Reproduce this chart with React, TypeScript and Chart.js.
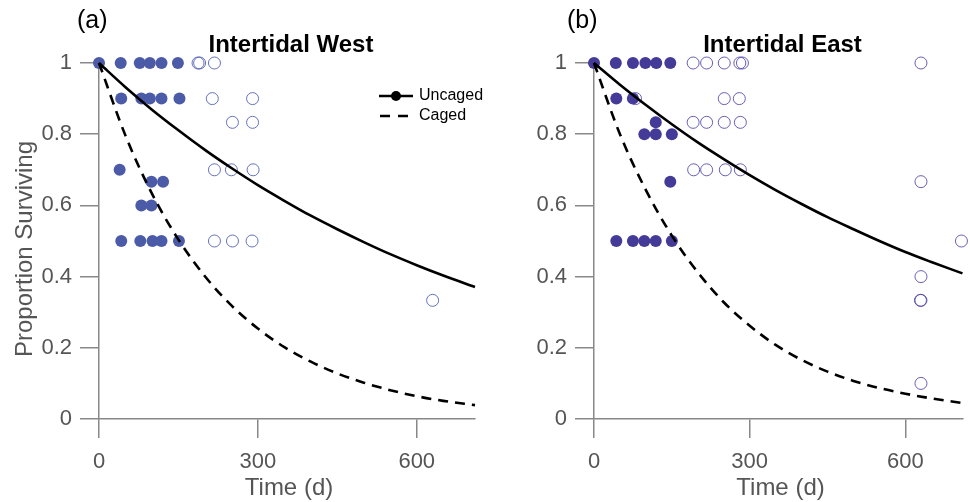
import React, { useEffect, useRef } from 'react';
import { Chart, registerables } from 'chart.js';

Chart.register(...registerables);

const FONT = '"Liberation Sans", Arial, Helvetica, sans-serif';

// Axis ticks
const xTickValues = [0, 300, 600];
const yTickValues = [0, 0.2, 0.4, 0.6, 0.8, 1];
const yTickLabels = ['0', '0.2', '0.4', '0.6', '0.8', '1'];

// Fitted survival curves
const curveDays = [0, 50, 100, 150, 200, 250, 300, 350, 400, 450, 500, 550, 600, 650, 710];
const westUncaged = [1, 0.932, 0.869, 0.811, 0.756, 0.705, 0.657, 0.613, 0.571, 0.533, 0.497, 0.463, 0.432, 0.403, 0.371];
const westCaged = [1, 0.796, 0.633, 0.504, 0.401, 0.319, 0.254, 0.202, 0.161, 0.128, 0.102, 0.081, 0.064, 0.051, 0.039];
const eastUncaged = [1, 0.939, 0.882, 0.828, 0.777, 0.73, 0.685, 0.643, 0.604, 0.567, 0.533, 0.5, 0.469, 0.441, 0.409];
const eastCaged = [1, 0.8, 0.643, 0.515, 0.412, 0.328, 0.262, 0.208, 0.166, 0.133, 0.107, 0.087, 0.071, 0.058, 0.045];

// Intertidal West observations
const westFilledDays = [0, 41, 77, 96, 118, 149, 42, 80, 96, 118, 152, 39, 99, 121, 80, 99, 42, 78, 101, 118, 151];
const westFilledProp = [1, 1, 1, 1, 1, 1, 0.9, 0.9, 0.9, 0.9, 0.9, 0.7, 0.6667, 0.6667, 0.6, 0.6, 0.5, 0.5, 0.5, 0.5, 0.5];
const westOpenDays = [187, 190, 218, 214, 290, 252, 290, 218, 250, 291, 218, 252, 289, 630];
const westOpenProp = [1, 1, 1, 0.9, 0.9, 0.8333, 0.8333, 0.7, 0.7, 0.7, 0.5, 0.5, 0.5, 0.3333];

// Intertidal East observations
const eastFilledDays = [0, 42, 75, 99, 120, 147, 43, 75, 119, 97, 119, 150, 147, 43, 75, 97, 119, 150];
const eastFilledProp = [1, 1, 1, 1, 1, 1, 0.9, 0.9, 0.8333, 0.8, 0.8, 0.8, 0.6667, 0.5, 0.5, 0.5, 0.5, 0.5];
const eastOpenDays = [191, 217, 251, 281, 286, 630, 80, 251, 280, 191, 217, 251, 282, 192, 217, 253, 282, 630, 708, 630, 630, 629, 630];
const eastOpenProp = [1, 1, 1, 1, 1, 1, 0.9, 0.9, 0.9, 0.8333, 0.8333, 0.8333, 0.8333, 0.7, 0.7, 0.7, 0.7, 0.6667, 0.5, 0.4, 0.3333, 0.3333, 0.1];

type PanelProps = {
  left: number;
  width: number;
  yAxisWidth: number;
  padRight: number;
  xMax: number;
  letter: string;
  letterX: number;
  title: string;
  showYTitle: boolean;
  showLegend: boolean;
  filledDays: number[];
  filledProp: number[];
  openDays: number[];
  openProp: number[];
  uncaged: number[];
  caged: number[];
  filledColor: string;
  openColor: string;
};

function pts(xs: number[], ys: number[]) {
  return xs.map((x, i) => ({ x, y: ys[i] }));
}

function Panel(p: PanelProps) {
  const ref = useRef<HTMLCanvasElement>(null);
  useEffect(() => {
    const canvas = ref.current;
    if (!canvas) return;
    const deco = {
      id: 'deco',
      afterDraw(chart: any) {
        const ctx = chart.ctx as CanvasRenderingContext2D;
        const a = chart.chartArea;
        const cx = (a.left + a.right) / 2;
        ctx.save();
        ctx.fillStyle = '#000';
        ctx.textBaseline = 'middle';
        ctx.textAlign = 'left';
        ctx.font = `25px ${FONT}`;
        ctx.fillText(p.letter, p.letterX, 21);
        ctx.textAlign = 'center';
        ctx.font = `bold 24px ${FONT}`;
        ctx.fillText(p.title, cx + 4, 45);
        ctx.fillStyle = '#555';
        ctx.font = `24px ${FONT}`;
        ctx.fillText('Time (d)', cx + 2, 488);
        if (p.showYTitle) {
          ctx.save();
          ctx.translate(25, 249);
          ctx.rotate(-Math.PI / 2);
          ctx.fillText('Proportion Surviving', 0, 0);
          ctx.restore();
        }
        if (p.showLegend) {
          ctx.strokeStyle = '#000';
          ctx.lineWidth = 2.6;
          ctx.beginPath();
          ctx.moveTo(379, 96);
          ctx.lineTo(413, 96);
          ctx.stroke();
          ctx.fillStyle = '#000';
          ctx.beginPath();
          ctx.arc(396, 96, 5, 0, Math.PI * 2);
          ctx.fill();
          ctx.setLineDash([10, 8]);
          ctx.beginPath();
          ctx.moveTo(380, 116);
          ctx.lineTo(413, 116);
          ctx.stroke();
          ctx.setLineDash([]);
          ctx.textAlign = 'left';
          ctx.font = `16px ${FONT}`;
          ctx.fillText('Uncaged', 419, 96);
          ctx.fillText('Caged', 419, 116);
        }
        ctx.restore();
      },
    };
    const axisColor = '#888';
    const chart = new Chart(canvas, {
      type: 'scatter',
      data: {
        datasets: [
          {
            label: 'Uncaged',
            data: pts(curveDays, p.uncaged),
            showLine: true,
            borderColor: '#000',
            borderWidth: 2.6,
            pointRadius: 0,
            cubicInterpolationMode: 'monotone',
            order: 0,
            clip: false,
          } as any,
          {
            label: 'Caged',
            data: pts(curveDays, p.caged),
            showLine: true,
            borderColor: '#000',
            borderWidth: 2.6,
            borderDash: [10, 7],
            pointRadius: 0,
            cubicInterpolationMode: 'monotone',
            order: 1,
            clip: false,
          } as any,
          {
            label: 'open',
            data: pts(p.openDays, p.openProp),
            pointRadius: 6,
            pointBackgroundColor: 'rgba(0,0,0,0)',
            pointBorderColor: p.openColor,
            pointBorderWidth: 1,
            order: 2,
            clip: false,
          } as any,
          {
            label: 'filled',
            data: pts(p.filledDays, p.filledProp),
            pointRadius: 6,
            pointBackgroundColor: p.filledColor,
            pointBorderWidth: 0,
            order: 3,
            clip: false,
          } as any,
        ],
      },
      options: {
        responsive: false,
        animation: false,
        devicePixelRatio: 1,
        events: [],
        layout: { padding: { top: 63, right: p.padRight, left: 0, bottom: 0 } },
        plugins: { legend: { display: false }, tooltip: { enabled: false } },
        scales: {
          x: {
            type: 'linear',
            min: 0,
            max: p.xMax,
            afterFit: (s: any) => {
              s.height = 83;
            },
            afterBuildTicks: (s: any) => {
              s.ticks = xTickValues.map((v) => ({ value: v }));
            },
            grid: { drawOnChartArea: false, drawTicks: true, tickLength: 19, color: axisColor, lineWidth: 1.5 },
            border: { display: true, color: axisColor, width: 1.5 },
            ticks: { padding: 11, color: '#555', font: { family: FONT, size: 22 }, maxRotation: 0, autoSkip: false },
          },
          y: {
            type: 'linear',
            min: 0,
            max: 1,
            afterFit: (s: any) => {
              s.width = p.yAxisWidth;
            },
            afterBuildTicks: (s: any) => {
              s.ticks = yTickValues.map((v) => ({ value: v }));
            },
            grid: { drawOnChartArea: false, drawTicks: true, tickLength: 19, color: axisColor, lineWidth: 1.5 },
            border: { display: true, color: axisColor, width: 1.5 },
            ticks: {
              padding: 8,
              color: '#555',
              font: { family: FONT, size: 22 },
              autoSkip: false,
              callback: (v: any) => {
                const i = yTickValues.indexOf(Number(v));
                return i >= 0 ? yTickLabels[i] : String(v);
              },
            },
          },
        },
      } as any,
      plugins: [deco],
    });
    return () => chart.destroy();
  }, []);
  return (
    <canvas
      ref={ref}
      width={p.width}
      height={502}
      style={{ position: 'absolute', left: p.left, top: 0, width: p.width, height: 502 }}
    />
  );
}

export default function App() {
  return (
    <div style={{ position: 'fixed', left: 0, top: 0, width: 970, height: 502, overflow: 'hidden', background: '#fff' }}>
      <Panel
        left={0}
        width={485}
        yAxisWidth={99}
        padRight={10}
        xMax={710}
        letter="(a)"
        letterX={77}
        title="Intertidal West"
        showYTitle={true}
        showLegend={true}
        filledDays={westFilledDays}
        filledProp={westFilledProp}
        openDays={westOpenDays}
        openProp={westOpenProp}
        uncaged={westUncaged}
        caged={westCaged}
        filledColor="#4b5ba8"
        openColor="rgba(75,91,180,0.85)"
      />
      <Panel
        left={485}
        width={485}
        yAxisWidth={109}
        padRight={0}
        xMax={711}
        letter="(b)"
        letterX={82}
        title="Intertidal East"
        showYTitle={false}
        showLegend={false}
        filledDays={eastFilledDays}
        filledProp={eastFilledProp}
        openDays={eastOpenDays}
        openProp={eastOpenProp}
        uncaged={eastUncaged}
        caged={eastCaged}
        filledColor="#443a97"
        openColor="rgba(80,68,170,0.85)"
      />
    </div>
  );
}
